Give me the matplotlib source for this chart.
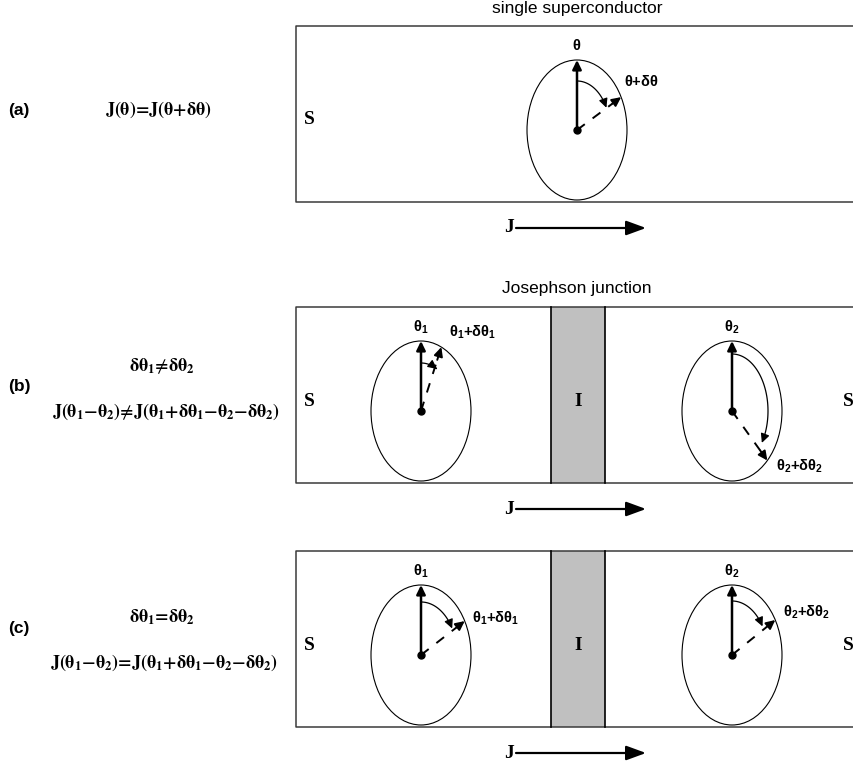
import numpy as np
import matplotlib.pyplot as plt
from matplotlib.patches import Ellipse, Rectangle

# mathtext for the small phase labels: Arial-like sans
plt.rcParams['mathtext.fontset'] = 'custom'
plt.rcParams['mathtext.rm'] = 'Liberation Sans'
plt.rcParams['mathtext.it'] = 'Liberation Sans'
plt.rcParams['mathtext.bf'] = 'Liberation Sans:bold'

# ---- panel content ----
panel_tops = [26, 307, 551]
panel_titles = ['single superconductor', 'Josephson junction', '']
panel_tags = ['(a)', '(b)', '(c)']
tag_y = [110, 386, 628]
cond_text = ['', r'δθ_1≠δθ_2', r'δθ_1\hspace{-0.2}=\hspace{-0.2}δθ_2']
cond_y = [0, 366, 617]
current_text = [r'J(θ)\hspace{-0.2}=\hspace{-0.2}J(θ{+}δθ)',
                r'J(θ_1{-}θ_2)≠J(θ_1{+}δθ_1{-}θ_2{-}δθ_2)',
                r'J(θ_1{-}θ_2)\hspace{-0.2}=\hspace{-0.2}J(θ_1{+}δθ_1{-}θ_2{-}δθ_2)']
current_x = [158, 166, 164]
current_y = [110, 412, 663]
has_junction = [False, True, True]

# phase pointers in each superconductor
phase_x = [[577], [421, 732], [421, 732]]
phase_names = [['θ'], ['θ_1', 'θ_2'], ['θ_1', 'θ_2']]
shift_names = [['θ{+}δθ'], ['θ_1{+}δθ_1', 'θ_2{+}δθ_2'], ['θ_1{+}δθ_1', 'θ_2{+}δθ_2']]
shift_deg = [[62], [24, 135], [61, 60]]          # where the dashed pointer ends
arc_end_deg = [[63], [29, 124], [60, 58]]        # where the curved arrow ends
arc_half_w = [[33], [33, 36], [36, 36]]
arc_half_h = [[49], [48, 57], [53, 54]]
shift_lab_dx = [[47], [28, 44], [51, 51]]
shift_lab_dy = [[-48], [-79, 55], [-37, -43]]

# create figure in pixel coordinates
fig = plt.figure(figsize=(8.54, 7.64), dpi=100)
ax = fig.add_axes([0, 0, 1, 1])
ax.set_xlim(0, 854)
ax.set_ylim(764, 0)
ax.axis('off')

box_left, box_h = 296, 176
ins_left, ins_right = 551, 605
ell_w, ell_h = 100, 140


def arrow(p0, p1, lw=1.0, ms=12, hl=0.45, hw=0.22):
	ax.annotate('', xy=p1, xytext=p0,
	            arrowprops=dict(arrowstyle='-|>,head_length=%g,head_width=%g' % (hl, hw),
	                            lw=lw, color='k', shrinkA=0, shrinkB=0, mutation_scale=ms))


for i, top in enumerate(panel_tops):
	bot = top + box_h
	dot_y = top + 104

	# superconductor box (runs off the right edge)
	ax.plot([880, box_left, box_left, 880], [top, top, bot, bot], color='#3a3a3a', lw=1.1)
	if has_junction[i]:
		ax.add_patch(Rectangle((ins_left, top), ins_right - ins_left, box_h,
		                       facecolor='#c0c0c0', edgecolor='none'))
		ax.plot([ins_left, ins_left], [top, bot], color='k', lw=1.2)
		ax.plot([ins_right, ins_right], [top, bot], color='k', lw=1.2)
		ax.text(578, dot_y - 10, 'I', family='Liberation Serif', weight='bold',
		        fontsize=14, ha='center', va='center')
		ax.text(843, dot_y - 10, 'S', family='Liberation Serif', weight='bold',
		        fontsize=14, ha='left', va='center')
	ax.text(304, dot_y - 10, 'S', family='Liberation Serif', weight='bold',
	        fontsize=14, ha='left', va='center')

	if panel_titles[i]:
		ax.text(577, top - 18, panel_titles[i], family='Liberation Sans',
		        fontsize=12.5, ha='center', va='center')

	# left column text
	ax.text(8, tag_y[i], panel_tags[i], family='Liberation Sans', weight='bold',
	        fontsize=12.5, ha='left', va='center')
	if cond_text[i]:
		ax.text(162, cond_y[i], r'$\mathbf{' + cond_text[i] + '}$', math_fontfamily='stix',
		        fontsize=13, ha='center', va='center')
	ax.text(current_x[i], current_y[i], r'$\mathbf{' + current_text[i] + '}$',
	        math_fontfamily='stix', fontsize=13, ha='center', va='center')

	# current arrow
	jy = bot + 26
	ax.text(514, jy, 'J', family='Liberation Serif', weight='bold',
	        fontsize=14, ha='right', va='center')
	arrow((516, jy), (646, jy), lw=1.6, ms=20, hl=0.6, hw=0.22)

	for k, cx in enumerate(phase_x[i]):
		ax.add_patch(Ellipse((cx, dot_y), ell_w, ell_h, fill=False, lw=0.8, color='k'))
		ax.plot(cx, dot_y, 'o', ms=5, color='k')
		# phase before the shift
		arrow((cx, dot_y), (cx, dot_y - ell_h / 2), lw=1.8, ms=12)
		ax.text(cx, dot_y - ell_h / 2 - 14, r'$\mathbf{' + phase_names[i][k] + '}$',
		        fontsize=10.5, ha='center', va='center')
		# shifted phase, dashed
		s = np.radians(shift_deg[i][k])
		ex = cx + ell_w / 2 * np.sin(s)
		ey = dot_y - ell_h / 2 * np.cos(s)
		dx, dy = ex - cx, ey - dot_y
		ax.plot([cx, cx + 0.8 * dx], [dot_y, dot_y + 0.8 * dy], color='k', lw=1.4,
		        linestyle=(0, (5, 5)))
		arrow((cx + 0.8 * dx, dot_y + 0.8 * dy), (ex, ey), lw=1.4, ms=12)
		# curved arrow from old to new phase
		t = np.radians(np.linspace(0, arc_end_deg[i][k], 60))
		axc = cx + arc_half_w[i][k] * np.sin(t)
		ayc = dot_y - arc_half_h[i][k] * np.cos(t)
		ax.plot(axc[:-3], ayc[:-3], color='k', lw=0.9)
		arrow((axc[-4], ayc[-4]), (axc[-1], ayc[-1]), lw=0.9, ms=12)
		ax.text(cx + shift_lab_dx[i][k], dot_y + shift_lab_dy[i][k],
		        r'$\mathbf{' + shift_names[i][k] + '}$', fontsize=10.5,
		        ha='left', va='center')

fig.savefig('out.png', dpi=100)
